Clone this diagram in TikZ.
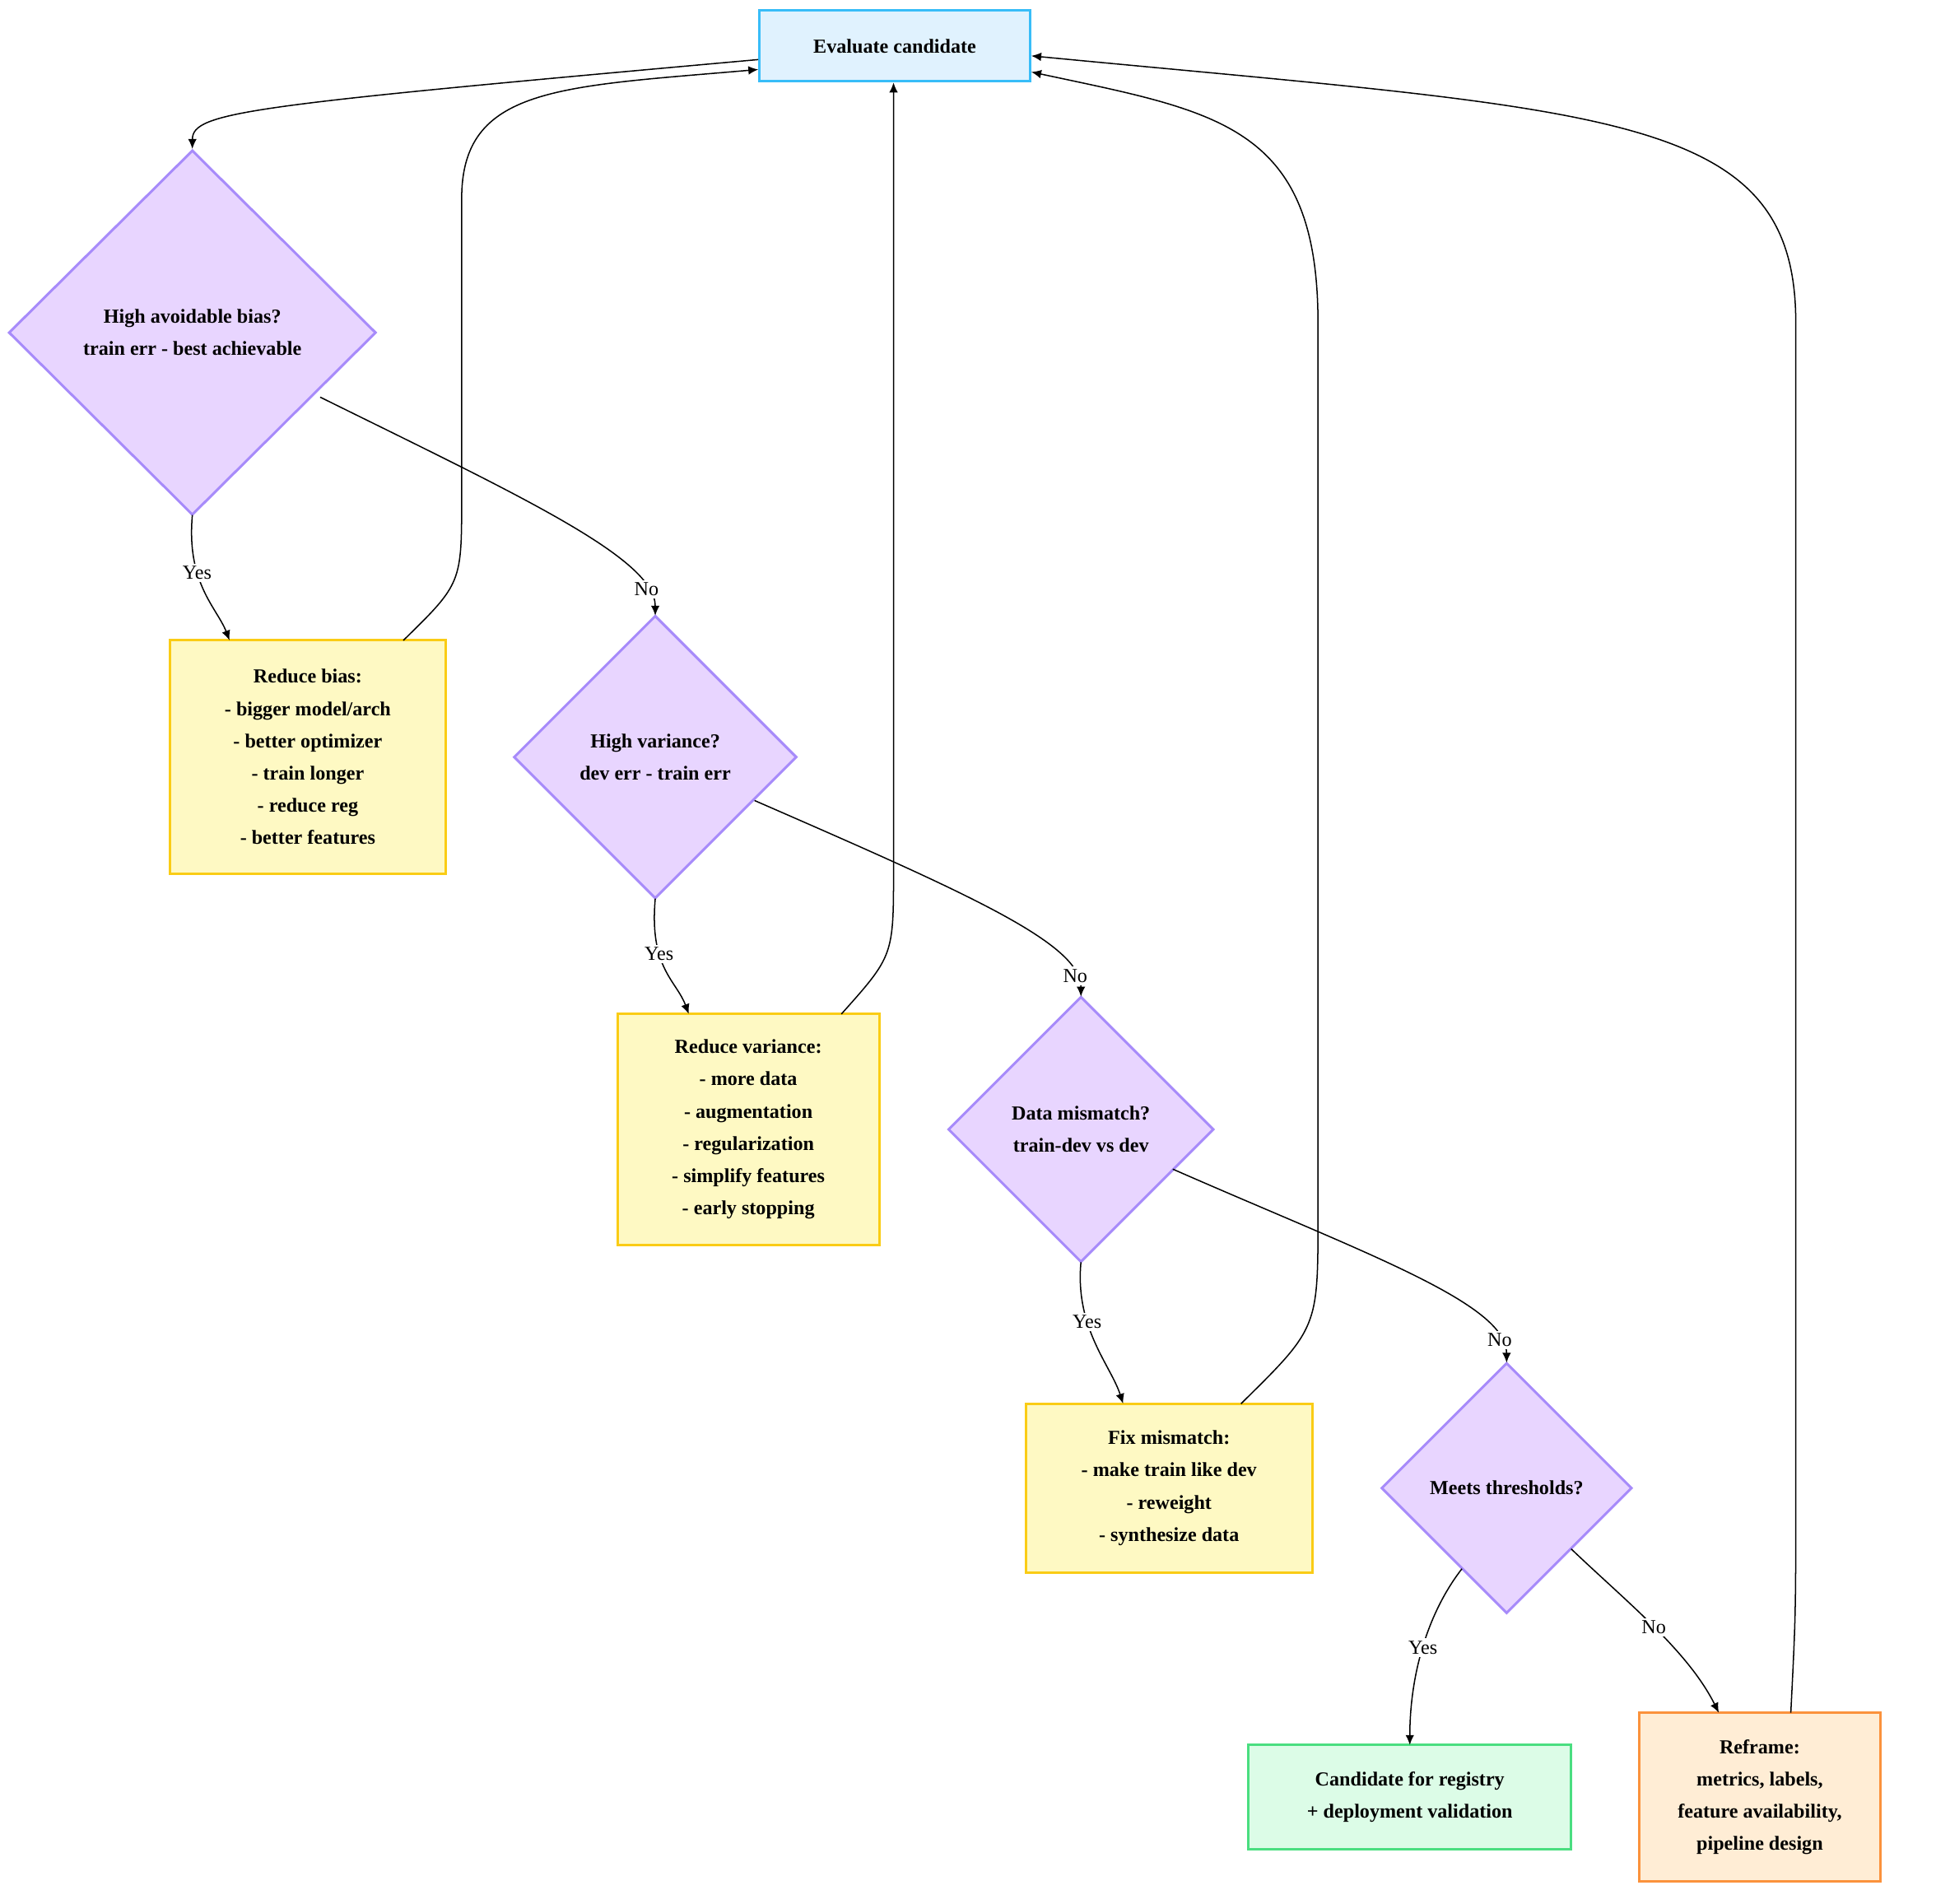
\documentclass[tikz,border=0pt]{standalone}
\usepackage{fontspec}
\setmainfont{Liberation Serif}
\usetikzlibrary{shapes.geometric,arrows.meta}
\begin{document}
\begin{tikzpicture}[x=1pt,y=-1pt,
  font=\fontsize{16}{26}\selectfont,
  box/.style={draw,line width=2pt,align=center,font=\fontsize{16}{26}\selectfont\bfseries,inner sep=0},
  dia/.style={diamond,draw=dbd,fill=dfill,line width=2pt,align=center,font=\fontsize{16}{26}\selectfont\bfseries,inner sep=0},
  yel/.style={box,draw=ybd,fill=yfill},
  e/.style={-{Latex[length=8pt,width=7pt]},line width=1pt},
  lb/.style={fill=white,inner sep=2pt,font=\fontsize{16}{20}\selectfont}]
\definecolor{dfill}{HTML}{E8D5FF}\definecolor{dbd}{HTML}{A78BFA}
\definecolor{yfill}{HTML}{FEF9C3}\definecolor{ybd}{HTML}{FACC15}
\definecolor{bfill}{HTML}{E0F2FE}\definecolor{bbd}{HTML}{38BDF8}
\definecolor{gfill}{HTML}{DCFCE7}\definecolor{gbd}{HTML}{4ADE80}
\definecolor{ofill}{HTML}{FFEDD5}\definecolor{obd}{HTML}{FB923C}
\useasboundingbox (0,0) rectangle (1560,1534);
\node[box,draw=bbd,fill=bfill,minimum width=218,minimum height=57] (E) at (721,37) {Evaluate candidate};
\node[dia,minimum width=296,minimum height=294] (D1) at (155,268) {High avoidable bias?\\train err - best achievable};
\node[yel,minimum width=222,minimum height=188] (RB) at (248,610) {Reduce bias:\\- bigger model/arch\\- better optimizer\\- train longer\\- reduce reg\\- better features};
\node[dia,minimum width=228,minimum height=228] (D2) at (528,610) {High variance?\\dev err - train err};
\node[yel,minimum width=211,minimum height=187] (RV) at (603,910) {Reduce variance:\\- more data\\- augmentation\\- regularization\\- simplify features\\- early stopping};
\node[dia,minimum width=214,minimum height=214] (D3) at (871,910) {Data mismatch?\\train-dev vs dev};
\node[yel,minimum width=231,minimum height=136] (FM) at (942,1199) {Fix mismatch:\\- make train like dev\\- reweight\\- synthesize data};
\node[dia,minimum width=202,minimum height=202] (D4) at (1214,1199) {Meets thresholds?};
\node[box,draw=gbd,fill=gfill,minimum width=260,minimum height=84] (C) at (1136,1448) {Candidate for registry\\+ deployment validation};
\node[box,draw=obd,fill=ofill,minimum width=194,minimum height=136] (R) at (1418,1448) {Reframe:\\metrics, labels,\\feature availability,\\pipeline design};
\coordinate (d1s) at (155,415); \coordinate (d1r) at (258,320);
\coordinate (d2s) at (528,724); \coordinate (d2r) at (608,645);
\coordinate (d3s) at (871,1017); \coordinate (d3r) at (945,942);
\coordinate (d4l) at (1178,1264); \coordinate (d4r) at (1266,1248);
\draw[e] (E.west|-0,48) .. controls (200,85) and (155,90) .. (D1.north);
\draw[e] (d1s) .. controls (150,470) and (175,490) .. (185,516) node[pos=0.35,lb]{Yes};
\draw[e] (d1r) .. controls (420,400) and (528,450) .. (528,496) node[pos=0.85,lb]{No};
\draw[e] (325,516) .. controls (372,470) .. (372,400) -- (372,160) .. controls (372,70) and (450,70) .. (E.west|-0,56);
\draw[e] (d2s) .. controls (523,780) and (545,790) .. (555,817) node[pos=0.35,lb]{Yes};
\draw[e] (d2r) .. controls (780,720) and (871,760) .. (871,803) node[pos=0.87,lb]{No};
\draw[e] (678,817) .. controls (720,770) .. (720,700) -- (E.south-|720,0);
\draw[e] (d3s) .. controls (866,1070) and (895,1100) .. (905,1131) node[pos=0.35,lb]{Yes};
\draw[e] (d3r) .. controls (1100,1010) and (1214,1050) .. (1214,1098) node[pos=0.87,lb]{No};
\draw[e] (1000,1131) .. controls (1062,1070) .. (1062,980) -- (1062,260) .. controls (1062,100) and (980,90) .. (E.east|-0,58);
\draw[e] (d4l) .. controls (1150,1300) and (1136,1350) .. (1136,1406) node[pos=0.5,lb]{Yes};
\draw[e] (d4r) .. controls (1310,1290) and (1360,1330) .. (1385,1380) node[pos=0.5,lb]{No};
\draw[e] (1443,1380) .. controls (1447,1300) .. (1447,1200) -- (1447,260) .. controls (1447,90) and (1300,90) .. (E.east|-0,45);
\end{tikzpicture}
\end{document}
